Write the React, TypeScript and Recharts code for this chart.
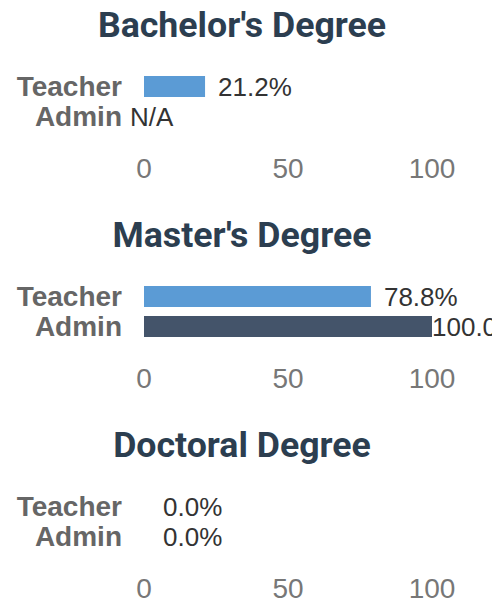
import React from 'react';
import { BarChart, Bar, XAxis, YAxis, Cell, LabelList } from 'recharts';

const categories = ['Teacher', 'Admin'];
const degreeTitles = ["Bachelor's Degree", "Master's Degree", 'Doctoral Degree'];
const teacherValues: (number | null)[] = [21.2, 78.8, 0.0];
const adminValues: (number | null)[] = [null, 100.0, 0.0];
const xTicks = [0, 50, 100];

const barColors = ['#5b9bd5', '#44546a'];

type Row = { name: string; value: number; raw: number | null; label: string };

const buildRows = (i: number): Row[] =>
  categories.map((name, c) => {
    const raw = c === 0 ? teacherValues[i] : adminValues[i];
    return {
      name,
      raw,
      value: raw == null ? 0 : raw,
      label: raw == null ? 'N/A' : `${raw.toFixed(1)}%`,
    };
  });

const makeLabel = (rows: Row[]) => (props: any) => {
  const { x, y, width, height, index } = props;
  const row = rows[index];
  if (!row) return null;
  let tx: number;
  if (row.raw == null) tx = Number(x) - 14;
  else if (row.raw === 0) tx = Number(x) + 19;
  else if (row.raw >= 100) tx = Number(x) + Number(width);
  else tx = Number(x) + Number(width) + 13;
  const ty = Number(y) + Number(height) / 2;
  return (
    <text
      x={tx}
      y={ty}
      dy="0.36em"
      fill="#333"
      fontSize={26}
      fontFamily="'Liberation Sans', Arial, sans-serif"
      textAnchor="start"
    >
      {row.label}
    </text>
  );
};

const DegreeChart = ({ i }: { i: number }) => {
  const rows = buildRows(i);
  return (
    <div style={{ position: 'relative', width: 492, height: 210 }}>
      <div
        style={{
          position: 'absolute',
          top: 0,
          left: 0,
          width: 484,
          height: 50,
          lineHeight: '50px',
          textAlign: 'center',
          fontFamily: 'Roboto, sans-serif',
          fontWeight: 700,
          fontSize: 35.7,
          color: '#2c3e50',
        }}
      >
        {degreeTitles[i]}
      </div>
      <div style={{ position: 'absolute', top: 0, left: 0 }}>
        <BarChart
          width={492}
          height={210}
          data={rows}
          layout="vertical"
          margin={{ top: 71, right: 60, bottom: 0, left: 0 }}
          barSize={21}
        >
          <XAxis
            type="number"
            domain={[0, 100]}
            ticks={xTicks}
            axisLine={false}
            tickLine={false}
            tickSize={0}
            tickMargin={27}
            height={79}
            tick={{ fill: '#777', fontSize: 28, fontFamily: "'Liberation Sans', Arial, sans-serif" }}
          />
          <YAxis
            type="category"
            dataKey="name"
            width={144}
            interval={0}
            axisLine={false}
            tickLine={false}
            tickSize={0}
            tickMargin={22}
            tick={{
              fill: '#666',
              fontSize: 28,
              fontWeight: 700,
              fontFamily: "'Liberation Sans', Arial, sans-serif",
            }}
          />
          <Bar dataKey="value" isAnimationActive={false} minPointSize={0.001}>
            {rows.map((r, c) => (
              <Cell key={r.name} fill={barColors[c]} />
            ))}
            <LabelList dataKey="label" content={makeLabel(rows)} />
          </Bar>
        </BarChart>
      </div>
    </div>
  );
};

export default function App() {
  return (
    <div
      style={{
        position: 'absolute',
        top: 0,
        left: 0,
        width: 492,
        height: 600,
        overflow: 'hidden',
        background: '#fff',
      }}
    >
      {degreeTitles.map((_, i) => (
        <DegreeChart key={i} i={i} />
      ))}
    </div>
  );
}
